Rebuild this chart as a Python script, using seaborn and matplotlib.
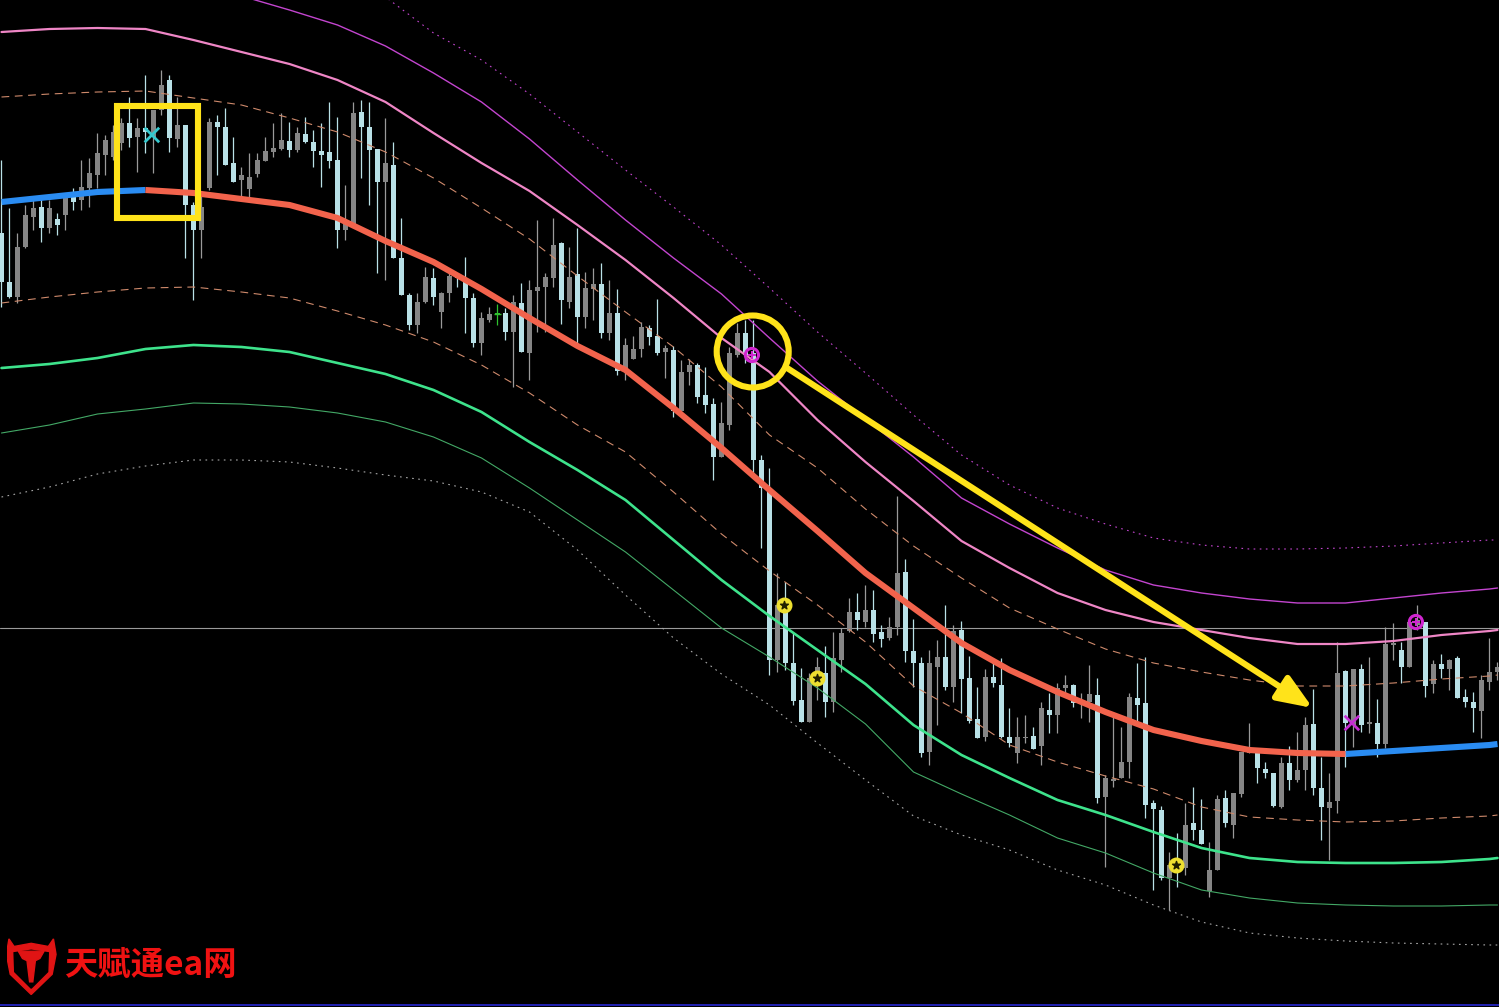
import matplotlib
matplotlib.use("Agg")
import matplotlib.pyplot as plt
from matplotlib.patches import Rectangle, Ellipse, Polygon
import numpy as np
import pandas as pd
import seaborn as sns

# ---- candles (price points, one per bar) ----
OPEN = [767, 718, 703, 753, 783, 793, 772, 781, 785, 803,
        800, 812, 825, 845, 843, 857, 877, 863, 872, 863,
        890, 920, 861, 875, 795, 770, 812, 878, 873, 837,
        820, 811, 826, 839, 848, 851, 859, 850, 866, 858,
        849, 848, 840, 770, 776, 888, 873, 851, 818, 835,
        742, 705, 675, 698, 722, 688, 707, 725, 722, 702,
        657, 680, 686, 687, 668, 697, 647, 709, 713, 722,
        757, 698, 726, 683, 711, 716, 667, 687, 629, 641,
        651, 672, 664, 648, 650, 589, 628, 635, 605, 596,
        543, 575, 645, 667, 647, 540, 511, 340, 395, 337,
        300, 278, 320, 327, 298, 340, 369, 388, 378, 390,
        368, 362, 373, 428, 349, 337, 248, 333, 343, 313,
        370, 322, 281, 263, 323, 315, 263, 247, 262, 264,
        254, 290, 285, 312, 315, 296, 298, 305, 203, 219,
        222, 238, 302, 297, 197, 190, 122, 135, 132, 177,
        170, 109, 130, 202, 175, 206, 247, 250, 231, 227,
        193, 237, 220, 230, 276, 212, 192, 199, 329, 275,
        331, 276, 277, 256, 355, 350, 333, 375, 378, 316,
        336, 331, 342, 303, 298, 289, 318, 328]
HIGH = [840, 792, 767, 795, 803, 803, 800, 787, 807, 812,
        840, 842, 867, 865, 875, 882, 903, 882, 925, 890,
        930, 925, 903, 875, 798, 808, 882, 885, 892, 863,
        833, 847, 847, 863, 877, 887, 878, 873, 883, 870,
        877, 898, 883, 815, 898, 900, 898, 851, 882, 858,
        782, 707, 707, 733, 732, 708, 727, 727, 743, 707,
        688, 693, 696, 692, 705, 717, 720, 780, 727, 782,
        758, 753, 772, 728, 732, 737, 720, 711, 662, 664,
        678, 675, 701, 655, 654, 640, 641, 637, 633, 602,
        598, 653, 677, 680, 680, 545, 532, 427, 418, 367,
        332, 327, 343, 354, 368, 372, 402, 407, 415, 410,
        375, 383, 504, 441, 381, 343, 350, 360, 395, 375,
        379, 344, 313, 331, 342, 342, 292, 283, 285, 273,
        298, 307, 317, 325, 316, 307, 335, 322, 225, 283,
        273, 307, 337, 343, 200, 194, 148, 167, 197, 213,
        201, 158, 205, 210, 207, 248, 277, 250, 238, 227,
        243, 254, 268, 283, 311, 243, 227, 358, 330, 331,
        336, 343, 301, 373, 377, 358, 382, 395, 378, 340,
        346, 341, 344, 311, 308, 325, 362, 338]
LOW = [693, 702, 697, 752, 770, 758, 767, 765, 770, 790,
       790, 793, 812, 825, 840, 850, 853, 828, 847, 827,
       885, 848, 853, 742, 700, 742, 810, 825, 835, 818,
       803, 801, 823, 839, 843, 850, 843, 848, 857, 833,
       813, 832, 752, 760, 773, 822, 795, 727, 720, 742,
       705, 670, 667, 697, 695, 672, 698, 713, 667, 653,
       645, 678, 675, 660, 613, 648, 620, 668, 668, 713,
       676, 692, 653, 672, 680, 662, 660, 625, 620, 641,
       643, 655, 645, 622, 583, 585, 615, 597, 587, 520,
       543, 570, 643, 637, 522, 452, 325, 328, 330, 295,
       278, 278, 300, 283, 288, 328, 368, 370, 373, 358,
       353, 360, 365, 338, 313, 243, 235, 275, 310, 298,
       287, 277, 262, 259, 313, 262, 253, 237, 257, 251,
       235, 267, 267, 303, 293, 282, 278, 197, 133, 213,
       222, 222, 275, 182, 110, 120, 90, 113, 125, 160,
       156, 103, 130, 173, 162, 203, 247, 217, 222, 193,
       192, 210, 218, 210, 205, 160, 140, 187, 233, 253,
       268, 267, 243, 252, 340, 317, 333, 370, 303, 307,
       322, 310, 302, 293, 268, 262, 310, 320]
CLOSE = [718, 703, 753, 785, 792, 772, 792, 775, 802, 798,
         813, 827, 847, 860, 868, 877, 862, 872, 868, 890,
         915, 862, 875, 795, 770, 793, 878, 873, 835, 818,
         825, 823, 840, 849, 852, 860, 850, 867, 858, 849,
         845, 839, 770, 776, 887, 873, 850, 818, 837, 742,
         705, 675, 698, 723, 703, 707, 724, 722, 702, 657,
         682, 686, 686, 668, 698, 648, 710, 713, 723, 755,
         700, 723, 683, 712, 716, 667, 687, 629, 655, 651,
         673, 663, 647, 652, 589, 628, 635, 603, 595, 543,
         577, 647, 667, 645, 540, 512, 340, 395, 337, 299,
         278, 322, 333, 298, 342, 367, 388, 380, 390, 366,
         361, 373, 427, 349, 337, 247, 337, 343, 313, 369,
         321, 279, 262, 323, 317, 263, 257, 263, 263, 251,
         292, 285, 312, 315, 297, 298, 306, 202, 222, 221,
         238, 303, 295, 195, 191, 122, 135, 130, 175, 170,
         156, 130, 201, 177, 207, 248, 249, 232, 227, 194,
         237, 220, 230, 275, 212, 193, 198, 327, 277, 331,
         275, 278, 256, 356, 357, 333, 378, 380, 314, 336,
         331, 340, 302, 298, 292, 320, 328, 333]

# ---- channel lines, sampled every 6 bars ----
BAND_BARS = [0, 6, 12, 18, 24, 30, 36, 42, 48, 54, 60, 66, 72, 78, 84, 90,
             96, 102, 108, 114, 120, 126, 132, 138, 144, 150, 156, 162, 168,
             174, 180, 186, 187]
MID = [798, 803, 808, 810, 807, 801, 795, 782, 759, 738, 711, 682, 654, 630,
       592, 552, 510, 469, 427, 392, 357, 330, 308, 288, 270, 259, 250, 247,
       246, 249, 252, 255, 256]
UP1 = [903, 906, 908, 909, 902, 895, 882, 868, 848, 822, 792, 761, 724, 688,
       653, 613, 565, 532, 491, 454, 422, 392, 371, 351, 337, 328, 320, 314,
       314, 317, 321, 324, 325]
UP2 = [968, 971, 972, 971, 960, 948, 936, 920, 898, 867, 837, 809, 775, 740,
       702, 662, 628, 580, 538, 499, 459, 432, 407, 390, 378, 370, 362, 356,
       356, 359, 365, 369, 370]
UP3 = [1015, 1020, 1022, 1020, 1014, 1004, 990, 975, 954, 927, 898, 861, 820,
       780, 742, 706, 662, 619, 581, 543, 502, 476, 452, 430, 415, 407, 401,
       397, 397, 402, 407, 411, 412]
UP4 = [1080, 1085, 1088, 1085, 1078, 1065, 1050, 1030, 1003, 967, 940, 906,
       868, 830, 793, 755, 712, 668, 627, 585, 545, 515, 492, 476, 462, 455,
       451, 451, 452, 454, 457, 460, 460]
DN1 = [697, 703, 708, 712, 713, 708, 702, 689, 675, 658, 635, 607, 575, 548,
       508, 466, 429, 395, 358, 314, 287, 255, 238, 224, 211, 193, 183, 180,
       178, 179, 182, 184, 185]
DN2 = [632, 636, 642, 651, 655, 653, 648, 637, 626, 610, 588, 558, 530, 500,
       460, 420, 384, 350, 316, 275, 245, 222, 200, 185, 168, 152, 142, 138,
       137, 137, 138, 141, 142]
DN3 = [567, 575, 586, 591, 597, 596, 593, 587, 578, 563, 542, 512, 480, 448,
       410, 372, 343, 312, 276, 228, 206, 185, 162, 147, 127, 110, 102, 97,
       95, 94, 94, 95, 95]
DN4 = [503, 513, 526, 534, 540, 540, 538, 532, 525, 519, 508, 488, 450, 405,
       362, 326, 295, 257, 220, 184, 165, 150, 130, 115, 95, 78, 67, 62, 59,
       57, 56, 55, 55]

# trend colour of the middle line switches at these bars
UP_END_BAR = 18
UP_START_BAR = 168

# ---- signal markers ----
RING_BARS = [93.8, 176.8]
RING_PRICES = [645, 378]
STAR_BARS = [97.8, 101.9, 146.8]
STAR_PRICES = [395, 322, 135]
CROSS_BARS = [18.8, 168.8]
CROSS_PRICES = [865, 277]
CROSS_COLORS = ["#36c9cf", "#c42fd2"]
LEVEL_PRICE = 372

# ---- yellow annotations ----
BOX_BARS = (14.4, 24.56)
BOX_PRICES = (782, 894)
RING_CENTER = (93.9, 648.5)
ARROW_FROM = (98.2, 632)
ARROW_TO = (163.9, 292)

BEAR_COL = "#b9e1e7"
BULL_COL = "#858585"
DOJI_COL = "#2fc22f"
YELLOW = "#ffe31a"

sns.set_style("dark", {"axes.facecolor": "black", "figure.facecolor": "black"})

fig = plt.figure(figsize=(14.99, 10.07), dpi=100)
ax = fig.add_axes([0, 0, 1, 1])
ax.set_facecolor("black")
ax.set_xlim(-0.1875, 187.1875)
ax.set_ylim(-7, 1000)
ax.set_xticks([])
ax.set_yticks([])
for s in ax.spines.values():
    s.set_visible(False)

# candles
o = np.array(OPEN, dtype=float)
c = np.array(CLOSE, dtype=float)
bars = np.arange(len(o))
cols = np.where(c < o, BEAR_COL, BULL_COL).astype(object)
cols[c == o] = DOJI_COL
wick_cols = [("#9a9a9a" if k == BULL_COL else k) for k in cols]
ax.vlines(bars, LOW, HIGH, colors=wick_cols, linewidth=0.9, zorder=2)
bottom = np.minimum(o, c)
height = np.maximum(np.abs(c - o), 1.3)
ax.bar(bars, height, bottom=bottom, width=0.68, color=list(cols), linewidth=0, zorder=2)
ax.hlines(o[c == o], bars[c == o] - 0.45, bars[c == o] + 0.45, colors=DOJI_COL, lw=1, zorder=2)

# channel bands
band_vals = {"up1": UP1, "up2": UP2, "up3": UP3, "up4": UP4,
             "dn1": DN1, "dn2": DN2, "dn3": DN3, "dn4": DN4}
band_df = pd.concat([pd.DataFrame({"bar": BAND_BARS, "price": v, "band": k})
                     for k, v in band_vals.items()], ignore_index=True)
palette = {"up1": "#cf8a6c", "up2": "#ef86c6", "up3": "#c345cf", "up4": "#c345cf",
           "dn1": "#cf8a6c", "dn2": "#3ee38c", "dn3": "#43a866", "dn4": "#a8a8a8"}
sizes = {"up1": 0.8, "up2": 1.6, "up3": 1.0, "up4": 0.8,
         "dn1": 0.8, "dn2": 1.9, "dn3": 0.8, "dn4": 0.8}
dashes = {"up1": (7, 5), "up2": "", "up3": "", "up4": (1.5, 4),
          "dn1": (7, 5), "dn2": "", "dn3": "", "dn4": (1.5, 4)}
sns.lineplot(data=band_df, x="bar", y="price", hue="band", style="band", size="band",
             palette=palette, sizes=sizes, dashes=dashes, estimator=None,
             legend=False, ax=ax, zorder=3)

# middle line, coloured by trend
bb = np.array(BAND_BARS)
mid = np.array(MID)
i1 = int(np.searchsorted(bb, UP_END_BAR))
i2 = int(np.searchsorted(bb, UP_START_BAR))
segs = [(bb[:i1 + 1], mid[:i1 + 1], "up", 0),
        (bb[i1:i2 + 1], mid[i1:i2 + 1], "down", 1),
        (bb[i2:], mid[i2:], "up", 2)]
mid_df = pd.concat([pd.DataFrame({"bar": x, "price": y, "trend": t, "seg": n})
                    for x, y, t, n in segs], ignore_index=True)
sns.lineplot(data=mid_df, x="bar", y="price", hue="trend", units="seg", estimator=None,
             palette={"up": "#2a8cf2", "down": "#f2634c"}, linewidth=4.4,
             solid_capstyle="butt", solid_joinstyle="round", legend=False, ax=ax, zorder=4)

ax.axhline(LEVEL_PRICE, color="#9a9a9a", lw=0.8, zorder=1)
ax.axhline(-5, color="#2424c0", lw=1.3, zorder=1)

# markers
ax.scatter(RING_BARS, RING_PRICES, s=90, facecolors="none", edgecolors="#d026d0",
           linewidths=2.2, zorder=6)
ax.scatter(RING_BARS, RING_PRICES, s=30, marker="+", color="#d026d0", linewidths=1.5, zorder=6)
ax.scatter(STAR_BARS, STAR_PRICES, s=110, color="#eee030", zorder=6)
ax.scatter(STAR_BARS, STAR_PRICES, s=35, marker="*", color="#202000", zorder=7)
ax.scatter(CROSS_BARS, CROSS_PRICES, s=110, marker="x", c=CROSS_COLORS, linewidths=2.0, zorder=6)

# yellow hand-drawn annotations
ax.add_patch(Rectangle((BOX_BARS[0], BOX_PRICES[0]), BOX_BARS[1] - BOX_BARS[0],
                       BOX_PRICES[1] - BOX_PRICES[0], fill=False, ec=YELLOW,
                       lw=4.4, zorder=8))
ax.add_patch(Ellipse(RING_CENTER, width=9.0, height=72, fill=False, ec=YELLOW,
                     lw=4.4, zorder=8))
ax.annotate("", xy=ARROW_TO, xytext=ARROW_FROM,
            arrowprops=dict(arrowstyle="-|>,head_length=0.75,head_width=0.3",
                            color=YELLOW, lw=4.4, mutation_scale=28,
                            shrinkA=0, shrinkB=0), zorder=8)

# watermark
lax = fig.add_axes([7 / 1499, 10 / 1007, 50 / 1499, 60 / 1007])
lax.set_xlim(20, 175)
lax.set_ylim(240, 50)
lax.axis("off")
lax.add_patch(Polygon([(26, 56), (42, 80), (95, 70), (148, 80), (164, 56), (172, 105),
                       (160, 168), (95, 232), (30, 168), (18, 105)], color="#e01414"))
lax.add_patch(Polygon([(42, 100), (95, 92), (148, 100), (146, 160), (95, 212),
                       (44, 160)], color="black"))
lax.add_patch(Polygon([(55, 95), (135, 95), (122, 118), (108, 125), (100, 192),
                       (90, 192), (82, 125), (68, 118)], color="#e01414"))
fig.text(64 / 1499, 1 - 966 / 1007, "天赋通ea网", color="#f01212", fontsize=24,
         fontweight="bold", va="center", ha="left",
         family=["Noto Sans CJK SC", "DejaVu Sans"])

fig.savefig("out.png", dpi=100, facecolor="black")
